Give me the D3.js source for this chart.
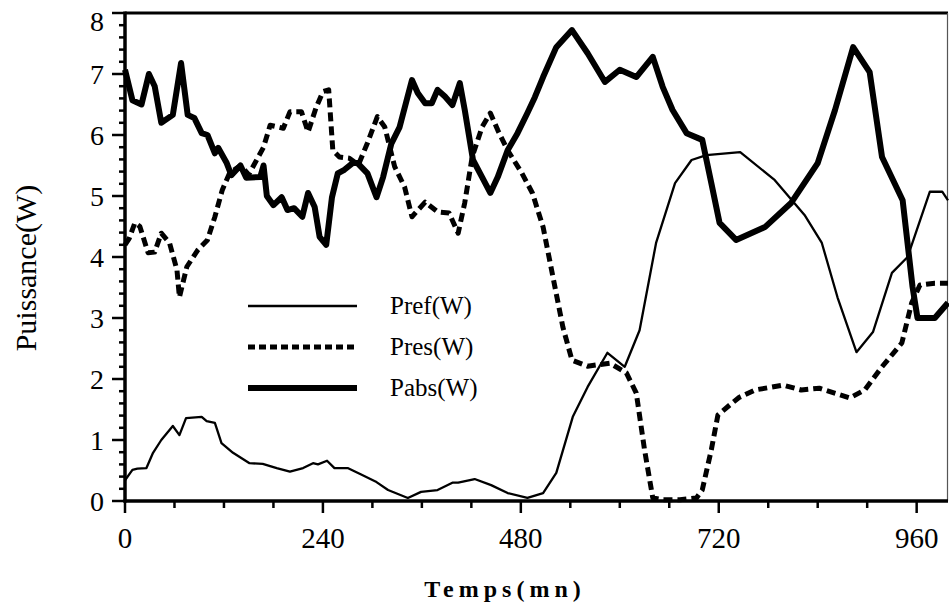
<!DOCTYPE html>
<html>
<head>
<meta charset="utf-8">
<script src="https://cdn.jsdelivr.net/npm/d3@7"></script>
<style>
    body { margin: 0; background: #fff; }
    svg text { font-family: "Liberation Serif", "DejaVu Serif", "Times New Roman", serif; fill: #000; }
</style>
</head>
<body>
<div id="chart"></div>
<script>
////////////////////////////
// values //
////////////////////////////

// Pref(W)
let prefTime = [0, 9, 15, 26, 34, 44, 58, 66, 74, 93, 99, 109, 117, 131, 151, 167, 184, 200, 216, 228, 234, 245, 254, 270, 287, 305, 319, 343, 359, 379, 397, 404, 424, 444, 464, 488, 507, 523, 543, 561, 585, 606, 624, 644, 667, 687, 705, 746, 788, 824, 845, 864, 887, 907, 930, 949, 976, 991, 998];
let prefVal = [0.34, 0.51, 0.53, 0.54, 0.79, 1.0, 1.23, 1.08, 1.36, 1.38, 1.31, 1.28, 0.95, 0.79, 0.62, 0.61, 0.54, 0.48, 0.54, 0.62, 0.6, 0.66, 0.54, 0.54, 0.43, 0.31, 0.18, 0.05, 0.15, 0.18, 0.3, 0.3, 0.36, 0.26, 0.13, 0.05, 0.13, 0.46, 1.38, 1.87, 2.43, 2.2, 2.8, 4.23, 5.21, 5.59, 5.67, 5.72, 5.26, 4.69, 4.23, 3.34, 2.44, 2.77, 3.74, 4.0, 5.07, 5.07, 4.93];

// Pres(W)
let presTime = [0, 5, 12, 18, 28, 36, 44, 54, 63, 66, 75, 88, 100, 109, 118, 127, 140, 150, 160, 168, 176, 192, 200, 214, 222, 232, 240, 247, 252, 260, 272, 283, 294, 306, 315, 327, 339, 348, 364, 379, 393, 404, 412, 421, 433, 443, 452, 464, 481, 494, 507, 519, 531, 542, 561, 588, 608, 620, 630, 640, 652, 673, 693, 700, 711, 719, 733, 745, 764, 798, 820, 842, 879, 897, 918, 942, 954, 964, 982, 998];
let presVal = [4.2, 4.3, 4.56, 4.5, 4.07, 4.08, 4.39, 4.23, 3.79, 3.34, 3.84, 4.11, 4.28, 4.66, 5.1, 5.38, 5.5, 5.35, 5.6, 5.8, 6.16, 6.11, 6.38, 6.38, 6.05, 6.46, 6.71, 6.74, 5.75, 5.64, 5.62, 5.51, 5.87, 6.3, 6.13, 5.48, 5.15, 4.66, 4.9, 4.74, 4.72, 4.39, 4.89, 5.64, 6.13, 6.36, 6.08, 5.75, 5.38, 5.05, 4.49, 3.67, 2.85, 2.31, 2.21, 2.26, 2.1, 1.77, 0.84, 0.05, 0.02, 0.02, 0.05, 0.18, 0.84, 1.41, 1.57, 1.7, 1.82, 1.9, 1.82, 1.85, 1.69, 1.82, 2.2, 2.59, 3.25, 3.54, 3.57, 3.57];

// Pabs(W)
let pabsTime = [0, 9, 20, 29, 36, 44, 58, 68, 76, 84, 93, 100, 109, 113, 123, 129, 140, 147, 164, 168, 172, 180, 190, 197, 205, 215, 222, 230, 236, 244, 251, 258, 266, 276, 282, 294, 305, 313, 323, 333, 348, 355, 364, 372, 379, 388, 397, 406, 412, 422, 433, 443, 452, 464, 476, 488, 497, 507, 523, 542, 561, 582, 600, 620, 640, 652, 664, 681, 700, 711, 721, 741, 776, 808, 840, 861, 883, 903, 918, 943, 955, 961, 982, 998];
let pabsVal = [7.07, 6.57, 6.5, 7.0, 6.8, 6.2, 6.33, 7.18, 6.33, 6.28, 6.03, 6.0, 5.7, 5.79, 5.55, 5.34, 5.5, 5.3, 5.31, 5.5, 5.0, 4.85, 4.98, 4.77, 4.8, 4.66, 5.05, 4.82, 4.33, 4.2, 4.98, 5.37, 5.43, 5.54, 5.54, 5.37, 4.98, 5.31, 5.86, 6.13, 6.9, 6.69, 6.52, 6.52, 6.74, 6.63, 6.49, 6.85, 6.41, 5.59, 5.31, 5.05, 5.31, 5.75, 6.03, 6.36, 6.62, 6.95, 7.44, 7.72, 7.34, 6.87, 7.07, 6.95, 7.28, 6.79, 6.41, 6.03, 5.92, 5.21, 4.56, 4.28, 4.49, 4.89, 5.54, 6.41, 7.44, 7.03, 5.64, 4.93, 3.51, 3.0, 3.0, 3.25];

let xTicks = [0, 60, 120, 180, 240, 300, 360, 420, 480, 540, 600, 660, 720, 780, 840, 900, 960];
let xLabels = [0, 240, 480, 720, 960];
let yTicks = d3.range(0, 8.01, 0.2);
let yLabels = [0, 1, 2, 3, 4, 5, 6, 7, 8];

let legendNames = ["Pref(W)", "Pres(W)", "Pabs(W)"];

////////////////////////////
// chart //
////////////////////////////

let width = 949, height = 611;

let svg = d3.select("#chart").append("svg")
    .attr("width", width)
    .attr("height", height)
    .style("font-family", "'Liberation Serif', 'DejaVu Serif', serif");

svg.append("rect").attr("width", width).attr("height", height).attr("fill", "#fff");

let x = d3.scaleLinear().domain([0, 998]).range([125, 948]);
let y = d3.scaleLinear().domain([0, 8]).range([501, 13]);

// frame
svg.append("line")
    .attr("x1", x(0)).attr("x2", x(998))
    .attr("y1", y(8)).attr("y2", y(8))
    .attr("stroke", "#000").attr("stroke-width", 3);
svg.append("line")
    .attr("x1", x(998) - 0.5).attr("x2", x(998) - 0.5)
    .attr("y1", y(8)).attr("y2", y(0))
    .attr("stroke", "#555").attr("stroke-width", 1.2);

// y axis
let yAx = svg.append("g");
yAx.selectAll("line.tick")
    .data(yTicks)
    .enter()
    .append("line")
    .attr("class", "tick")
    .attr("x1", function(d) { return Math.abs(d - Math.round(d)) < 0.01 ? x(0) - 13 : x(0) - 6 })
    .attr("x2", x(0))
    .attr("y1", function(d) { return y(d) })
    .attr("y2", function(d) { return y(d) })
    .attr("stroke", "#000")
    .attr("stroke-width", 2.5);
yAx.selectAll("text")
    .data(yLabels)
    .enter()
    .append("text")
    .attr("x", 104)
    // the top label sits a little lower in the original
    .attr("y", function(d) { return d === 8 ? y(d) + 8 : y(d) })
    .attr("dy", "0.34em")
    .attr("text-anchor", "end")
    .style("font-size", "28px")
    .text(function(d) { return d });
yAx.append("line")
    .attr("x1", x(0)).attr("x2", x(0))
    .attr("y1", y(8) - 1.5).attr("y2", y(0) + 1.5)
    .attr("stroke", "#000").attr("stroke-width", 3.5);

// x axis
let xAx = svg.append("g");
xAx.selectAll("line.tick")
    .data(xTicks)
    .enter()
    .append("line")
    .attr("class", "tick")
    .attr("x1", function(d) { return x(d) })
    .attr("x2", function(d) { return x(d) })
    .attr("y1", y(0))
    .attr("y2", function(d) { return d % 240 === 0 ? y(0) + 12 : y(0) + 7 })
    .attr("stroke", "#000")
    .attr("stroke-width", 2.5);
xAx.selectAll("text")
    .data(xLabels)
    .enter()
    .append("text")
    .attr("x", function(d) { return x(d) })
    .attr("y", 548)
    .attr("text-anchor", "middle")
    .style("font-size", "29px")
    .text(function(d) { return d });
xAx.append("line")
    .attr("x1", x(0) - 1.5).attr("x2", x(998))
    .attr("y1", y(0)).attr("y2", y(0))
    .attr("stroke", "#000").attr("stroke-width", 3.5);

// axis titles
svg.append("text")
    .attr("transform", "translate(36," + 268 + ")rotate(-90)")
    .attr("text-anchor", "middle")
    .style("font-size", "30px")
    .text("Puissance(W)");

svg.append("text")
    .attr("x", 505)
    .attr("y", 597)
    .attr("text-anchor", "middle")
    .style("font-size", "24px")
    .style("font-weight", "bold")
    .style("letter-spacing", "5px")
    .text("Temps(mn)");

// lines
function pairUp(t, v) {
    return t.map(function(d, i) { return { t: d, v: v[i] } });
}

let line = d3.line()
    .x(function(d) { return x(d.t) })
    .y(function(d) { return y(d.v) });

let series = [
    { name: "Pref(W)", data: pairUp(prefTime, prefVal), width: 2.3, dash: null },
    { name: "Pres(W)", data: pairUp(presTime, presVal), width: 5, dash: "9 5" },
    { name: "Pabs(W)", data: pairUp(pabsTime, pabsVal), width: 6, dash: null }
];

let plot = svg.append("g");
series.forEach(function(s) {
    plot.append("path")
        .attr("fill", "none")
        .attr("stroke", "#000")
        .attr("stroke-width", s.width)
        .attr("stroke-linejoin", "round")
        .attr("stroke-dasharray", s.dash)
        .attr("d", line(s.data));
});

// legend
let legendY = [306, 347, 388];
let legend = svg.append("g");
series.forEach(function(s, i) {
    legend.append("line")
        .attr("x1", 248).attr("x2", 357)
        .attr("y1", legendY[i]).attr("y2", legendY[i])
        .attr("stroke", "#000")
        .attr("stroke-width", s.width)
        .attr("stroke-dasharray", s.dash ? "7 4" : null);
    legend.append("text")
        .attr("x", 390)
        .attr("y", legendY[i])
        .attr("dy", "0.32em")
        .style("font-size", "25px")
        .text(legendNames[i]);
});
</script>
</body>
</html>
